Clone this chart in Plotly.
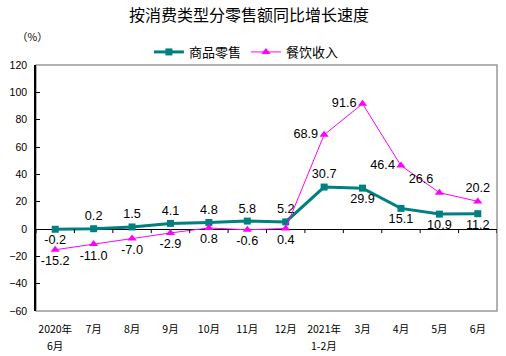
import plotly.graph_objects as go

categories = ["2020年", "7月", "8月", "9月", "10月", "11月", "12月",
              "2021年", "3月", "4月", "5月", "6月"]
sub_labels = {0: "6月", 7: "1-2月"}
retail = [-0.2, 0.2, 1.5, 4.1, 4.8, 5.8, 5.2, 30.7, 29.9, 15.1, 10.9, 11.2]
catering = [-15.2, -11.0, -7.0, -2.9, 0.8, -0.6, 0.4, 68.9, 91.6, 46.4, 26.6, 20.2]
retail_labels = [f"{v:.1f}" for v in retail]
catering_labels = [f"{v:.1f}" for v in catering]
retail_pos = ["bottom center"] + ["top center"] * 7 + ["bottom center"] * 4
catering_pos = ["bottom center"] * 7 + ["middle left", "middle left", "middle left",
                                         "top left", "top center"]
y_ticks = [-60, -40, -20, 0, 20, 40, 60, 80, 100, 120]

TEAL = "#008080"
MAGENTA = "#FF00FF"
CJK = "Noto Sans CJK SC"
LAT = "Liberation Sans"

x = list(range(len(categories)))

fig = go.Figure()
fig.add_trace(go.Scatter(
    x=x, y=retail, name="商品零售", mode="lines+markers+text",
    line=dict(color=TEAL, width=3),
    marker=dict(symbol="square", size=7, color=TEAL),
    text=retail_labels, textposition=retail_pos,
    textfont=dict(family=LAT, size=12.7, color="black"),
    cliponaxis=False,
))
fig.add_trace(go.Scatter(
    x=x, y=catering, name="餐饮收入", mode="lines+markers+text",
    line=dict(color=MAGENTA, width=1),
    marker=dict(symbol="triangle-up", size=8, color=MAGENTA),
    text=catering_labels, textposition=catering_pos,
    textfont=dict(family=LAT, size=12.7, color="black"),
    cliponaxis=False,
))

shapes = [dict(type="rect", xref="paper", yref="paper", x0=0, x1=1, y0=0, y1=1,
               line=dict(color="#999999", width=1.5), layer="below")]
for k in range(len(categories) + 1):
    shapes.append(dict(type="line", xref="x", yref="y", x0=k - 0.5, x1=k - 0.5,
                       y0=0, y1=-3, line=dict(color="black", width=1)))

annotations = [dict(text="（%）", xref="paper", yref="paper", x=-0.046, y=1.114,
                    xanchor="left", yanchor="middle", showarrow=False,
                    font=dict(family=CJK, size=10.5, color="black"))]
for i, s in sub_labels.items():
    annotations.append(dict(text=s, xref="x", yref="paper", x=i, y=0, yshift=-34,
                            xanchor="center", yanchor="middle", showarrow=False,
                            font=dict(family=CJK, size=10.5, color="black")))

fig.update_layout(
    width=506, height=356,
    margin=dict(l=36, r=9, t=65, b=45, autoexpand=False),
    paper_bgcolor="white", plot_bgcolor="white",
    title=dict(text="按消费类型分零售额同比增长速度", x=0.492, xanchor="center",
               xref="container", y=0.958, yanchor="middle",
               font=dict(family=CJK, size=16, color="black")),
    showlegend=True,
    legend=dict(orientation="h", x=0.487, xref="container", xanchor="center",
                y=0.854, yref="container", yanchor="middle",
                font=dict(family=CJK, size=13, color="black"),
                itemwidth=30, bgcolor="rgba(0,0,0,0)"),
    shapes=shapes,
    annotations=annotations,
)
fig.update_xaxes(range=[-0.5, len(categories) - 0.5], tickvals=x, ticktext=categories,
                 showgrid=False, zeroline=False, showline=False, ticks="",
                 ticklabelstandoff=10, automargin=False,
                 tickfont=dict(family=CJK, size=10.5, color="black"))
fig.update_yaxes(range=[-60, 120], tickvals=y_ticks, showgrid=False,
                 zeroline=True, zerolinecolor="black", zerolinewidth=1,
                 showline=True, linecolor="black", linewidth=1.5,
                 ticks="inside", ticklen=4, tickcolor="black", automargin=False,
                 ticklabelstandoff=5,
                 tickfont=dict(family=LAT, size=10.5, color="black"))
fig.write_html("out.html", config={"displayModeBar": False},
               post_script="document.body.style.margin='0';")
